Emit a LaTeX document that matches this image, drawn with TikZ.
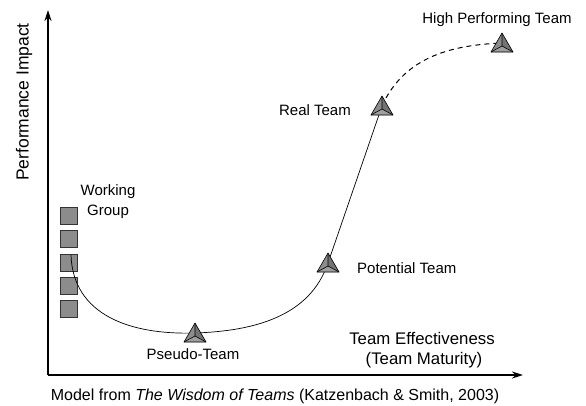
\documentclass[tikz,border=0pt]{standalone}
\usepackage{fontspec}
\setmainfont{Liberation Sans}
\usetikzlibrary{arrows.meta}
\begin{document}
\begin{tikzpicture}[x=1pt,y=-1pt,
  axis/.style={line width=1.6pt,-{Stealth[length=11pt,width=7pt]}},
  sq/.style={draw=black!80,fill=black!45,line width=0.6pt,minimum size=17pt,inner sep=0pt},
  lbl/.style={font=\fontsize{15}{17}\selectfont,inner sep=0pt},
  big/.style={font=\fontsize{16.8}{19}\selectfont,inner sep=0pt},
  pyr/.pic={
    \fill[black!45] (0,-10) -- (-11,9) -- (11,9) -- cycle;
    \fill[black!55] (0,-10) -- (0,3) -- (11,9) -- cycle;
    \fill[black!38] (-11,9) -- (0,3) -- (11,9) -- cycle;
    \draw[line width=0.6pt,line join=round] (0,-10) -- (-11,9) -- (11,9) -- cycle;
    \draw[line width=0.6pt] (0,-10) -- (0,3) (-11,9) -- (0,3) -- (11,9);
  }]
\useasboundingbox (0,0) rectangle (586,405);
\coordinate (o) at (48,375);
\coordinate (ytip) at (48,10);
\coordinate (xtip) at (523,375);
\draw[axis] (o) -- (ytip);
\draw[axis] (o) -- (xtip);
\node[font=\fontsize{17.5}{20}\selectfont,inner sep=0pt,rotate=90] (yl) at (24,102) {Performance Impact};
\node[font=\fontsize{16}{18}\selectfont,inner sep=0pt] (cap) at (275,396) {Model from \textit{The Wisdom of Teams} (Katzenbach \& Smith, 2003)};
\node[big] (te1) at (422,338) {Team Effectiveness};
\node[big] (te2) at (424,360) {(Team Maturity)};
% squares
\foreach \i in {0,...,4} {
  \node[sq] (s\i) at (69,{216+23.2*\i}) {};
}
\node[lbl,align=center,font=\fontsize{15}{20}\selectfont] (wg) at (108,202) {Working\\Group};
% path points
\coordinate (w) at (71,255);
\coordinate (p) at (195,333);
\coordinate (pt) at (328,263);
\coordinate (rt) at (382,106);
\coordinate (hp) at (502,43);
\draw[line width=0.7pt] (w) .. controls (73,315) and (130,335) .. (p)
   .. controls (255,331) and (310,316) .. (pt) -- (rt);
\draw[line width=1pt,dashed,dash pattern=on 5pt off 4pt] (rt) .. controls (405,55) and (455,45) .. (hp);
\pic at (p) {pyr};
\pic at (pt) {pyr};
\pic at (rt) {pyr};
\pic at (hp) {pyr};
\node[lbl] (pl) at (193,354) {Pseudo-Team};
\node[lbl,anchor=west] (ptl) at (357,268) {Potential Team};
\node[lbl,anchor=east] (rtl) at (351,110) {Real Team};
\node[lbl] (hpl) at (497,20) {High Performing Team};
\end{tikzpicture}
\end{document}
